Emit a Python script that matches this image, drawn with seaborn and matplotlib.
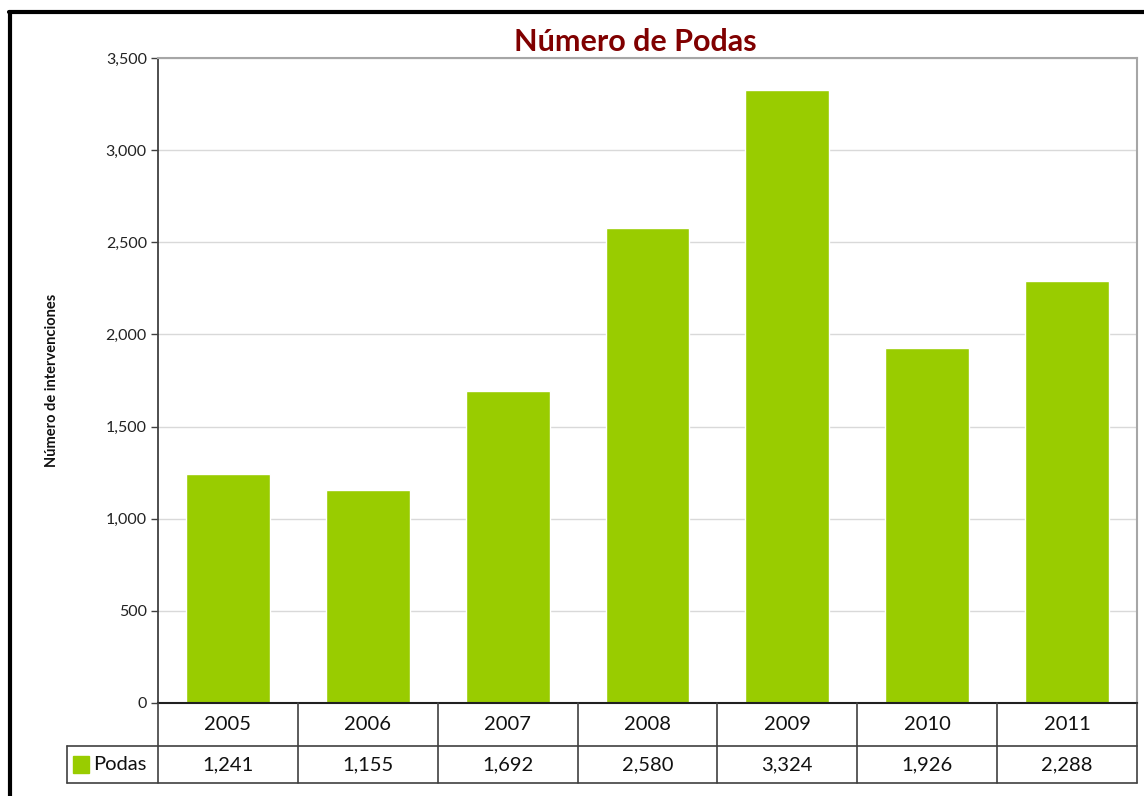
import seaborn as sns
import matplotlib.pyplot as plt
from matplotlib.patches import Rectangle
from matplotlib.ticker import FuncFormatter

# data
years = ['2005', '2006', '2007', '2008', '2009', '2010', '2011']
podas = [1241, 1155, 1692, 2580, 3324, 1926, 2288]
series_name = 'Podas'
title = 'Número de Podas'
y_label = 'Número de intervenciones'

bar_color = '#99CC00'
W, H = 1144, 796

sns.set_style('white')
plt.rcParams['font.family'] = ['Lato', 'DejaVu Sans']

fig = plt.figure(figsize=(W / 100, H / 100), dpi=100)

# plot area in pixels: left 158, right 1137, top 58, bottom 703
ax = fig.add_axes([158 / W, 1 - 703 / H, (1137 - 158) / W, (703 - 58) / H])
sns.barplot(x=years, y=podas, color=bar_color, saturation=1, width=0.6, ax=ax)
ax.set_xlim(-0.5, len(years) - 0.5)
ax.set_ylim(0, 3500)
ax.set_yticks(range(0, 3501, 500))
ax.yaxis.set_major_formatter(FuncFormatter(lambda v, p: f'{int(v):,}'))
ax.grid(axis='y', color='#d9d9d9', linewidth=1)
ax.set_axisbelow(True)
ax.set_xticks([])
ax.set_xlabel('')
ax.set_ylabel('')
ax.tick_params(axis='y', left=True, length=5, width=1, color='#404040',
               labelsize=11.5, pad=3, labelcolor='#222222')
for s in ['top', 'right']:
    ax.spines[s].set_color('#a6a6a6')
    ax.spines[s].set_linewidth(1.5)
ax.spines['left'].set_color('#404040')
ax.spines['left'].set_linewidth(1.3)
ax.spines['bottom'].set_color('#202020')
ax.spines['bottom'].set_linewidth(1.5)

fig.text(635 / W, 1 - 42 / H, title, ha='center', va='center',
         fontsize=22, fontweight='bold', color='#800000')
fig.text(52 / W, 1 - 380 / H, y_label, rotation=90, ha='center', va='center',
         fontsize=10.5, fontweight='bold', color='#111111')

# data table under the plot
tab = fig.add_axes([158 / W, 1 - 783 / H, (1137 - 158) / W, (783 - 703) / H])
tab.set_xlim(-0.5, len(years) - 0.5)
tab.set_ylim(0, 2)
tab.axis('off')
lc = '#404040'
mid = 0.925
left_edge = -0.5 - (158 - 67) / ((1137 - 158) / len(years))
for i in range(len(years) + 1):
    tab.plot([i - 0.5, i - 0.5], [0, 2], color=lc, lw=1.2, clip_on=False)
tab.plot([left_edge, len(years) - 0.5], [mid, mid], color=lc, lw=1.2, clip_on=False)
tab.plot([left_edge, len(years) - 0.5], [0, 0], color=lc, lw=1.2, clip_on=False)
tab.plot([left_edge, left_edge], [0, mid], color=lc, lw=1.2, clip_on=False)
for i, (yr, v) in enumerate(zip(years, podas)):
    tab.text(i, 1.46, yr, ha='center', va='center', fontsize=14.5, color='#111111')
    tab.text(i, 0.46, f'{v:,}', ha='center', va='center', fontsize=14.5, color='#111111')
tab.add_patch(Rectangle((left_edge + 0.04, 0.24), 0.12, 0.44, color=bar_color, clip_on=False))
tab.text(left_edge + 0.19, 0.46, series_name, ha='left', va='center', fontsize=14.5, color='#111111')

# outer chart border (cropped at right and bottom)
fig.add_artist(plt.Line2D([10 / W, 10 / W], [0, 1 - 12 / H], color='black', lw=3))
fig.add_artist(plt.Line2D([9 / W, 1], [1 - 12 / H, 1 - 12 / H], color='black', lw=3))

fig.savefig('out.png', dpi=100)
